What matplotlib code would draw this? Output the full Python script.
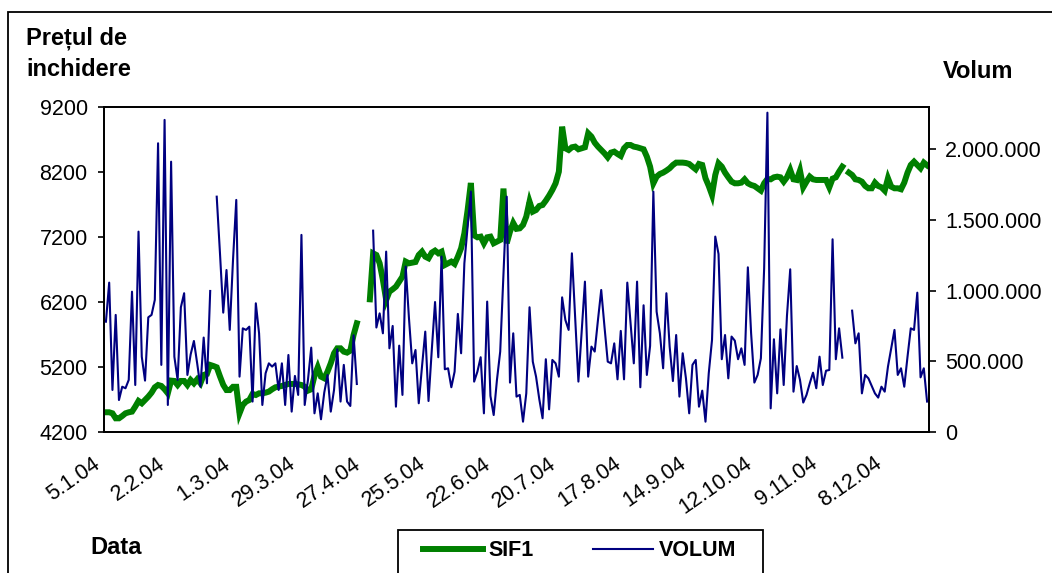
import numpy as np
import matplotlib
matplotlib.use("Agg")
import matplotlib.pyplot as plt
from matplotlib.patches import Rectangle
from matplotlib.ticker import FuncFormatter
from matplotlib.transforms import ScaledTranslation

plt.rcParams['font.family'] = ['Liberation Sans', 'DejaVu Sans']

nan = np.nan

# closing price SIF1 (lei), one value per trading-day category
price = [
    4508, 4508, 4492, 4415, 4415, 4451, 4492, 4508, 4518, 4595,
    4682, 4646, 4697, 4749, 4810, 4892, 4928, 4913, 4862, 4800,
    4995, 4990, 4928, 4990, 4990, 4928, 5005, 4954, 5015, 4954,
    5082, 5097, 5236, 5220, 5200, 5060, 4930, 4850, 4850, 4900,
    4900, 4492, 4620, 4672, 4697, 4790, 4774, 4800, 4800, 4810,
    4826, 4862, 4892, 4903, 4913, 4928, 4944, 4944, 4944, 4938,
    4928, 4903, 4841, 4862, 5067, 5200, 5056, 5031, 5133, 5262,
    5415, 5492, 5492, 5441, 5426, 5456, 5697, 5877, nan, nan,
    nan, 6246, 6954, 6928, 6800, 6543, 6236, 6364, 6400, 6441,
    6518, 6595, 6826, 6800, 6810, 6820, 6928, 6979, 6902, 6877,
    6964, 6995, 6954, 6979, 6774, 6800, 6826, 6790, 6902, 7031,
    7261, 7620, 8036, 7230, 7200, 7210, 7108, 7200, 7210, 7108,
    7133, 7159, 7950, 7108, 7287, 7420, 7330, 7338, 7390, 7518,
    7749, 7595, 7620, 7682, 7697, 7764, 7841, 7928, 8031, 8210,
    8902, 8569, 8543, 8585, 8595, 8554, 8569, 8585, 8800, 8749,
    8656, 8595, 8543, 8492, 8431, 8503, 8518, 8482, 8451, 8569,
    8620, 8620, 8595, 8585, 8569, 8554, 8441, 8287, 8031, 8133,
    8174, 8195, 8226, 8262, 8313, 8349, 8349, 8349, 8343, 8328,
    8287, 8246, 8328, 8313, 8108, 7990, 7851, 8159, 8338, 8287,
    8195, 8123, 8056, 8031, 8031, 8041, 8092, 8031, 8005, 7990,
    7954, 7918, 8031, 8097, 8092, 8123, 8133, 8123, 8056, 8123,
    8236, 8092, 8082, 8226, 7969, 8056, 8133, 8092, 8082, 8082,
    8082, 8082, 7969, 8102, 8123, 8210, 8287, nan, 8195, 8159,
    8092, 8082, 8056, 7990, 7954, 7954, 8041, 7990, 7969, 7918,
    8108, 7979, 7954, 7954, 7939, 8041, 8195, 8313, 8364, 8313,
    8262, 8349, 8308,
]

# traded volume, thousands of shares
volume_k = [
    781, 1057, 299, 829, 228, 322, 311, 370, 993, 334,
    1417, 534, 365, 812, 829, 935, 2041, 476, 2206, 193,
    1911, 534, 370, 883, 982, 405, 550, 645, 487, 322,
    669, 346, 998, nan, 1664, 1264, 845, 1146, 723, 1217,
    1641, 393, 734, 723, 746, 217, 911, 699, 193, 417,
    487, 464, 487, 299, 487, 193, 546, 146, 398, 264,
    1394, 193, 370, 598, 134, 275, 92, 280, 405, 146,
    299, 586, 217, 476, 217, 186, 685, 341, nan, nan,
    nan, nan, 1424, 740, 840, 699, 1276, 593, 751, 181,
    612, 264, 1170, 805, 487, 581, 205, 464, 711, 221,
    581, 920, 530, 1241, 445, 452, 318, 428, 836, 558,
    1193, 1452, 1700, 358, 428, 530, 134, 923, 257, 122,
    370, 570, 1123, 1664, 351, 699, 252, 264, 75, 275,
    883, 499, 393, 233, 99, 516, 162, 511, 487, 393,
    953, 793, 723, 1264, 817, 358, 711, 1064, 393, 605,
    570, 793, 1005, 746, 499, 487, 628, 374, 716, 374,
    1057, 770, 487, 1064, 318, 897, 405, 610, 1700, 852,
    699, 452, 982, 605, 362, 687, 252, 558, 381, 134,
    476, 511, 181, 294, 75, 417, 652, 1382, 1259, 516,
    687, 381, 676, 647, 516, 593, 476, 1165, 699, 351,
    405, 523, 1158, 2257, 169, 657, 275, 727, 334, 822,
    1151, 287, 468, 370, 210, 264, 346, 421, 311, 534,
    334, 435, 440, 1363, 516, 734, 527, nan, nan, 859,
    628, 699, 275, 405, 381, 327, 275, 245, 322, 287,
    464, 593, 723, 405, 452, 322, 534, 734, 723, 986,
    388, 452, 217,
]

# category labels shown every 20 trading days
tick_idx = [0, 20, 40, 60, 80, 100, 120, 140, 160, 180, 200, 220, 240]
tick_labels = ["5.1.04", "2.2.04", "1.3.04", "29.3.04", "27.4.04", "25.5.04",
               "22.6.04", "20.7.04", "17.8.04", "14.9.04", "12.10.04",
               "9.11.04", "8.12.04"]
price_ticks = [4200, 5200, 6200, 7200, 8200, 9200]
volume_ticks = [0, 500000, 1000000, 1500000, 2000000]

price = np.array(price, dtype=float)
volume = np.array(volume_k, dtype=float) * 1000
n = len(price)
x = np.arange(n)

W, H = 1052, 573
fig = plt.figure(figsize=(W / 100, H / 100), dpi=100)
fig.patch.set_facecolor('white')

left, right, top, bottom = 104.3, 928.7, 107.3, 432.3
ax = fig.add_axes([left / W, 1 - bottom / H, (right - left) / W, (bottom - top) / H])
ax2 = ax.twinx()

GREEN = '#008000'
NAVY = '#000080'

l1, = ax.plot(x, price, color=GREEN, lw=4.3, solid_joinstyle='miter', zorder=2)
l2, = ax2.plot(x, volume, color=NAVY, lw=1.5, zorder=3)

ax.set_xlim(-0.5, n - 0.5)
ax.set_ylim(4200, 9200)
ax2.set_ylim(0, 2295000)

ax.set_yticks(price_ticks)
ax2.set_yticks(volume_ticks)
ax2.yaxis.set_major_formatter(FuncFormatter(lambda v, p: f"{int(v):,}".replace(",", ".")))

FS = 15.5
ax.set_xticks(tick_idx)
ax.set_xticklabels(tick_labels, rotation=35, ha='right', va='top',
                   rotation_mode='anchor', fontsize=FS)
ax.tick_params(axis='x', length=0, pad=15)
for lab in ax.get_xticklabels():
    lab.set_transform(lab.get_transform() + ScaledTranslation(-14 / 100, 0, fig.dpi_scale_trans))
ax.tick_params(axis='y', direction='out', length=4, width=1.2, labelsize=FS, pad=8)
ax2.tick_params(axis='y', direction='out', length=5, width=1.2, labelsize=FS, pad=7)

for a in (ax, ax2):
    for s in a.spines.values():
        s.set_linewidth(1.3)
        s.set_color('black')

# outer chart frame (extends past right and bottom edges)
y_top = 1 - 12 / H
fig.add_artist(Rectangle((8 / W, -0.2), 1.2, y_top + 0.2, transform=fig.transFigure,
                         fill=False, edgecolor='black', lw=1.3))

BF = 17
fig.text(26 / W, 1 - 38 / H, "Prețul de", fontsize=BF, fontweight='bold', va='center', ha='left')
fig.text(26 / W, 1 - 70 / H, "inchidere", fontsize=BF, fontweight='bold', va='center', ha='left')
fig.text(943 / W, 1 - 71 / H, "Volum", fontsize=BF, fontweight='bold', va='center', ha='left')
fig.text(90 / W, 1 - 547 / H, "Data", fontsize=BF, fontweight='bold', va='center', ha='left')

# legend box (its lower edge runs off the bottom of the picture)
fig.add_artist(Rectangle((398 / W, -0.2), (763 - 398) / W, (1 - 530 / H) + 0.2,
                         transform=fig.transFigure, fill=True, facecolor='white',
                         edgecolor='black', lw=1.3, zorder=5))
leg = fig.legend([l1, l2], ["SIF1", "VOLUM"], loc='center left',
                 bbox_to_anchor=(423 / W, 1 - 551 / H), borderaxespad=0, borderpad=0,
                 ncol=2, frameon=False, prop={'weight': 'bold', 'size': 15.5},
                 handlelength=2.8, columnspacing=2.75, handletextpad=0.25)
leg.set_zorder(6)

fig.savefig("out.png", dpi=100)
